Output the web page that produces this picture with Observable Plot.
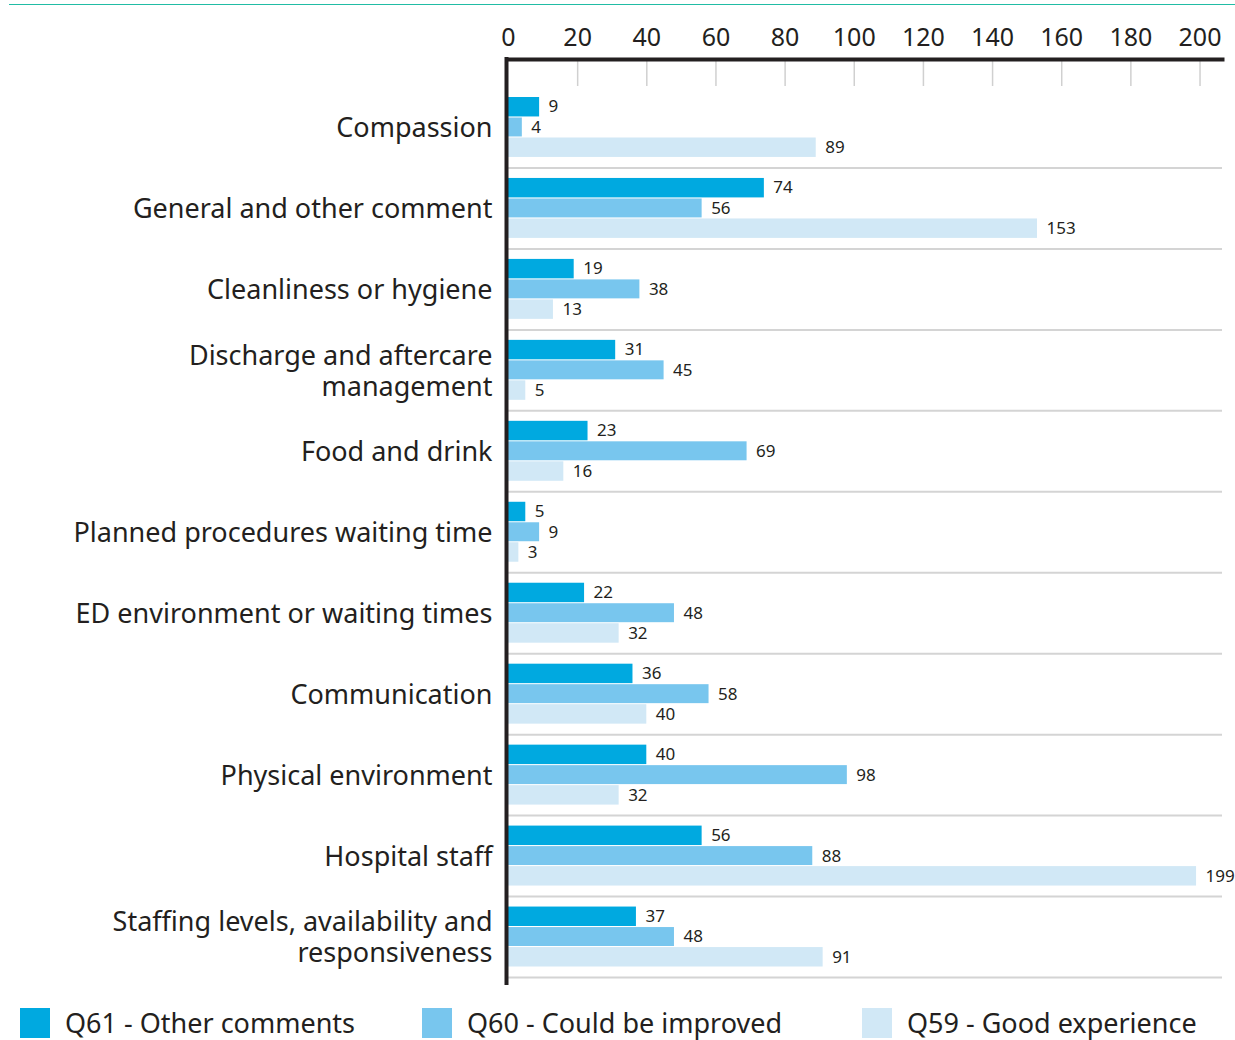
<!DOCTYPE html>
<html><head><meta charset="utf-8">
<script src="https://cdn.jsdelivr.net/npm/d3@7"></script>
<script src="https://cdn.jsdelivr.net/npm/@observablehq/plot@0.6"></script>
<style>
body{margin:0;background:#fff;font-family:"Noto Sans",sans-serif;color:#231f20}
#wrap{position:relative;width:1235px;height:1040px;overflow:hidden}
#topline{position:absolute;left:9px;right:0;top:4px;height:1px;background:#21bca5}
#chart{position:absolute;left:0;top:0}
#legend{position:absolute;top:1008px;left:0;width:1235px;height:31px}
.item{position:absolute;top:0;display:flex;align-items:center;font-size:27px;line-height:30px;white-space:nowrap}
.sw{width:30px;height:30px;margin-right:15px;flex:none}
</style></head>
<body><div id="wrap"><div id="topline"></div><div id="chart"></div><div id="legend"></div></div>
<script>
const categories = [
  "Compassion",
  "General and other comment",
  "Cleanliness or hygiene",
  "Discharge and aftercare\nmanagement",
  "Food and drink",
  "Planned procedures waiting time",
  "ED environment or waiting times",
  "Communication",
  "Physical environment",
  "Hospital staff",
  "Staffing levels, availability and\nresponsiveness"
];
const seriesNames = ["Q61 - Other comments", "Q60 - Could be improved", "Q59 - Good experience"];
const seriesColors = ["#00a9e0", "#78c6ee", "#d1e8f6"];
const q61 = [9, 74, 19, 31, 23, 5, 22, 36, 40, 56, 37];
const q60 = [4, 56, 38, 45, 69, 9, 48, 58, 98, 88, 48];
const q59 = [89, 153, 13, 5, 16, 3, 32, 40, 32, 199, 91];
const xTicks = [0, 20, 40, 60, 80, 100, 120, 140, 160, 180, 200];

const seriesValues = [q61, q60, q59];
const rows = seriesNames.map((s, si) => categories.map((c, i) => ({category: c, series: s, value: seriesValues[si][i]})));

// bar slot inside each category band: [insetTop, insetBottom, label dy]
const slots = [[10.5, 51, -20.5], [31, 31, 0], [51, 10.5, 20.5]];

const ink = "#231f20";
const marks = [
  Plot.ruleY(categories, {dy: 40.5, stroke: "#d4d4d4", strokeWidth: 2}),
  Plot.axisX({anchor: "top", ticks: xTicks.slice(1), tickSize: -26, tickFormat: () => "", stroke: "#d0d0d0", strokeWidth: 1.5, label: null}),
  Plot.axisX({anchor: "top", ticks: xTicks, tickSize: 0, tickPadding: 14, fontSize: 25, fill: ink, label: null})
];
rows.forEach((data, si) => {
  marks.push(Plot.barX(data, {x: "value", y: "category", fill: seriesColors[si], insetTop: slots[si][0], insetBottom: slots[si][1]}));
  marks.push(Plot.text(data, {x: "value", y: "category", text: d => String(d.value), dx: 9, dy: slots[si][2], textAnchor: "start", fontSize: 17, fill: ink}));
});
marks.push(
  Plot.axisY({tickSize: 0, tickPadding: 16, fontSize: 27, fill: ink, lineHeight: 1.15, label: null}),
  Plot.frame({anchor: "top", stroke: ink, strokeWidth: 4}),
  Plot.ruleX([0], {stroke: ink, strokeWidth: 4, dx: -2, strokeLinecap: "square"})
);

const chart = Plot.plot({
  width: 1235,
  height: 995,
  marginTop: 59,
  marginLeft: 508,
  marginRight: 13,
  marginBottom: 12,
  style: {fontFamily: "'Noto Sans', sans-serif", color: ink, background: "transparent"},
  x: {domain: [0, 206.5]},
  y: {domain: categories, padding: 0, round: false, insetTop: 27.5, insetBottom: 6},
  marks
});
document.getElementById("chart").appendChild(chart);

const legend = document.getElementById("legend");
const legendLeft = [20, 422, 862];
seriesNames.forEach((s, i) => {
  const it = document.createElement("div");
  it.className = "item";
  it.style.left = legendLeft[i] + "px";
  const sw = document.createElement("div");
  sw.className = "sw";
  sw.style.background = seriesColors[i];
  const tx = document.createElement("span");
  tx.textContent = s;
  it.appendChild(sw); it.appendChild(tx);
  legend.appendChild(it);
});
</script></body></html>
